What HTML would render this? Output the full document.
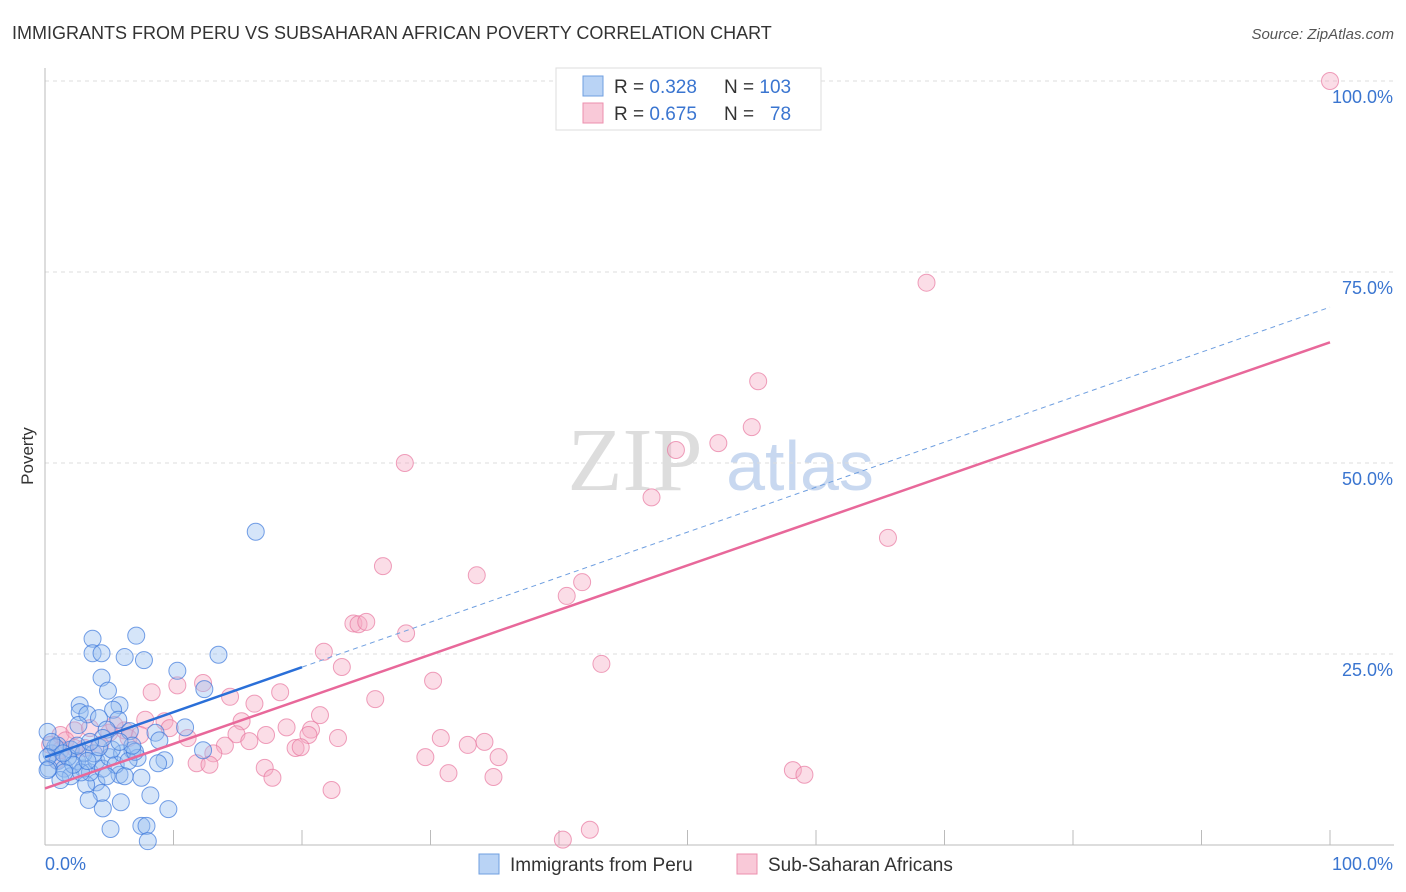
<!DOCTYPE html>
<html><head><meta charset="utf-8">
<style>
body{margin:0;background:#fff;font-family:"Liberation Sans",sans-serif;}
#wrap{position:relative;width:1406px;height:892px;overflow:hidden;}
</style></head>
<body>
<div id="wrap">
<svg id="svg" width="1406" height="892" xmlns="http://www.w3.org/2000/svg">
<text x="12" y="39" font-size="18" fill="#333">IMMIGRANTS FROM PERU VS SUBSAHARAN AFRICAN POVERTY CORRELATION CHART</text>
<text x="1394" y="39" font-size="15" fill="#555" font-style="italic" text-anchor="end">Source: ZipAtlas.com</text>
<text x="33" y="456" font-size="17" fill="#333" transform="rotate(-90 33 456)" text-anchor="middle">Poverty</text>
<text x="635" y="490" font-size="90" fill="#ddd" font-family="Liberation Serif,serif" text-anchor="middle">ZIP</text>
<text x="800" y="490" font-size="70" fill="#c8d8f0" text-anchor="middle">atlas</text>
<g id="grid"></g>
<g id="pts"></g>
<g id="lines"></g>
<g>
<rect x="556" y="68" width="265" height="62" fill="#fff" stroke="#ddd"/>
<rect x="583" y="76" width="20" height="20" fill="#b9d3f5" stroke="#6f9fe0"/>
<rect x="583" y="103" width="20" height="20" fill="#f9c9d8" stroke="#ec8fae"/>
<text x="614" y="93" font-size="19" fill="#333">R = <tspan fill="#3a75d0">0.328</tspan></text>
<text x="724" y="93" font-size="19" fill="#333">N = <tspan fill="#3a75d0">103</tspan></text>
<text x="614" y="120" font-size="19" fill="#333">R = <tspan fill="#3a75d0">0.675</tspan></text>
<text x="724" y="120" font-size="19" fill="#333">N = <tspan fill="#3a75d0">&#160;&#160;78</tspan></text>
</g>
<g>
<rect x="479" y="854" width="20" height="20" fill="#b9d3f5" stroke="#6f9fe0"/>
<text x="510" y="871" font-size="19" fill="#333">Immigrants from Peru</text>
<rect x="737" y="854" width="20" height="20" fill="#f9c9d8" stroke="#ec8fae"/>
<text x="768" y="871" font-size="19" fill="#333">Sub-Saharan Africans</text>
</g>
</svg>
</div>
<script>
const yTicks=[25,50,75,100];
const xTickLabels=["0.0%","100.0%"];
const blueX=[3.7,7.1,3.7,4.4,6.2,7.7,13.5,16.4,10.3,12.4,4.4,4.9,2.7,5.8,2.7,3.3,5.3,5.7,4.2,10.9,8.6,6.6,4.8,2.6,0.2,12.3,8.9,6.8,9.3,8.8,7.2,5.8,4.0,3.2,4.4,3.4,5.9,8.2,9.6,4.5,5.1,7.5,7.9,8.0,
0.5,1,1.5,2,2.5,3,3.5,4,4.5,5,5.5,6,1,2,3,0.3,1.2,2.8,3.8,4.8,5.2,6.5,7,1.8,0.8,2.2,3.3,4.2,1.5,0.5,1.4,2.5,6.8,5.8,4.5,3.5,7.5,6.2,0.2,0.2];
const blueY=[27,27.4,25.1,25.1,24.6,24.2,24.9,41,22.8,20.4,21.9,20.2,18.3,18.3,17.4,17.1,17.7,16.4,16.6,15.4,14.7,14.9,15.1,15.7,14.8,12.4,13.7,12.4,11.1,10.7,11.4,9.2,8.2,7.9,6.8,5.9,5.6,6.5,4.7,4.8,2.1,2.5,2.5,0.5,
12,11,10,12.5,11,10,9.5,11,10,11.5,10.5,12,13,9,12,10,8.5,9.5,12,9,12.5,11,12.2,11.5,12.8,10.5,11,12.8,9.5,13.5,12,13,13,13.5,14,13.5,8.8,9,11.5,9.8];
const pinkX=[100,68.6,55.5,55,52.4,49.1,47.2,65.6,28,26.3,33.6,41.8,40.6,24,24.4,25,28.1,21.7,43.3,23.1,30.2,10.3,8.3,12.3,18.3,25.7,14.4,16.3,21.4,15.3,7.8,9.3,18.8,20.7,11.1,14.9,17.2,22.8,30.8,34.2,32.9,20.5,19.5,19.9,14,15.9,13.1,11.8,12.8,29.6,35.3,17.1,17.7,31.4,34.9,22.3,58.2,59.1,40.3,42.4,
1.2,2.3,3.5,5,6.2,6.5,0.4,1.6,7.4,9.7,3.1,4.3,0.9,2.3,5.4,1.2];
const pinkY=[100,73.6,60.7,54.7,52.6,51.7,45.5,40.2,50,36.5,35.3,34.4,32.6,29,28.9,29.2,27.7,25.3,23.7,23.3,21.5,20.9,20,21.2,20,19.1,19.4,18.5,17,16.2,16.4,16.2,15.4,15.1,14,14.5,14.4,14,14,13.5,13.1,14.4,12.7,12.8,13,13.6,12,10.7,10.5,11.5,11.5,10.1,8.8,9.4,8.9,7.2,9.8,9.2,0.7,2,
14.4,15,15.3,14.7,15,14,13.1,13.7,14.4,15.3,12.7,13.1,11.1,12.7,15.7,12.4];
const blueFit=[11.5,70.4];
const pinkFit=[7.4,65.8];
const xs=v=>45+12.85*v, ys=v=>845-7.64*v;
const NS="http://www.w3.org/2000/svg";
function mk(t,a,p){const e=document.createElementNS(NS,t);for(const k in a)e.setAttribute(k,a[k]);p.appendChild(e);return e;}
const grid=document.getElementById('grid');
yTicks.forEach(t=>{
 const l=mk('line',{x1:45,x2:1394,y1:ys(t),y2:ys(t),stroke:'#ddd','stroke-dasharray':'4,4'},grid);
 
 
 const tx=mk('text',{x:1393,y:ys(t)+22,'font-size':18,fill:'#3a75d0','text-anchor':'end'},grid);
 tx.textContent=t.toFixed(1)+'%';
 
 
});
mk('line',{x1:45,x2:45,y1:68,y2:845,stroke:'#bbb'},grid);
mk('line',{x1:45,x2:1394,y1:845,y2:845,stroke:'#bbb'},grid);
for(let i=1;i<=10;i++){mk('line',{x1:45+128.5*i,x2:45+128.5*i,y1:830,y2:845,stroke:'#bbb'},grid);}
const xl0=mk('text',{x:45,y:870,'font-size':18,fill:'#3a75d0'},grid);xl0.textContent=xTickLabels[0];


const xl1=mk('text',{x:1393,y:870,'font-size':18,fill:'#3a75d0','text-anchor':'end'},grid);xl1.textContent=xTickLabels[1];


const pts=document.getElementById('pts');
pinkX.forEach((x,i)=>{const c=mk('circle',{cx:xs(x),cy:ys(pinkY[i]),r:8.5,fill:'rgba(246,170,195,0.4)',stroke:'rgba(232,120,160,0.7)','stroke-width':1},pts);
 
 });
blueX.forEach((x,i)=>{const c=mk('circle',{cx:xs(x),cy:ys(blueY[i]),r:8.5,fill:'rgba(150,190,240,0.4)',stroke:'rgba(60,120,220,0.7)','stroke-width':1},pts);
 
 });
const lines=document.getElementById('lines');
const bAt=x=>blueFit[0]+(blueFit[1]-blueFit[0])*x/100;
const b1=mk('line',{x1:xs(0),y1:ys(bAt(0)),x2:xs(20),y2:ys(bAt(20)),stroke:'#2a6fd8','stroke-width':2.5},lines);


const b2=mk('line',{x1:xs(20),y1:ys(bAt(20)),x2:xs(100),y2:ys(bAt(100)),stroke:'#6f9fe0','stroke-width':1,'stroke-dasharray':'5,4'},lines);


const p1=mk('line',{x1:xs(0),y1:ys(pinkFit[0]),x2:xs(100),y2:ys(pinkFit[1]),stroke:'#e8689a','stroke-width':2.5},lines);


</script>
</body></html>
